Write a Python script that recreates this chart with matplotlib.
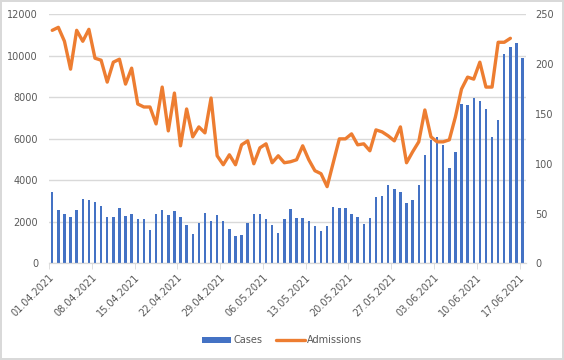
import numpy as np
import pandas as pd
import matplotlib
matplotlib.use('Agg')
import matplotlib.pyplot as plt

# daily values, 01.04.2021 - 17.06.2021
dates = pd.date_range('2021-04-01', periods=78, freq='D')

cases = [3440, 2570, 2380, 2230, 2570, 3100, 3050, 2960, 2760, 2230, 2230, 2670, 2280,
         2380, 2140, 2140, 1610, 2380, 2570, 2330, 2520, 2230, 1850, 1410, 1940, 2430,
         2040, 2330, 2040, 1660, 1320, 1370, 1940, 2380, 2380, 2140, 1850, 1460, 2140,
         2620, 2190, 2190, 2040, 1800, 1560, 1800, 2720, 2670, 2670, 2380, 2230, 1900, 2190,
         3200, 3250, 3780, 3580, 3440, 2910, 3050, 3780, 5220, 5940, 6090, 5700, 4590,
         5370, 7680, 7630, 7970, 7820, 7440, 6090, 6910, 10090, 10430, 10620, 9900]

admissions = [234, 237, 223, 195, 234, 223, 235, 206, 204, 182, 202, 205, 180,
              196, 160, 157, 157, 140, 177, 133, 171, 118, 155, 127, 137, 131,
              166, 108, 99, 109, 99, 119, 123, 100, 116, 120, 101, 108, 101,
              102, 104, 118, 104, 93, 90, 77, 101, 125, 125, 130, 119, 120, 113,
              134, 132, 128, 123, 137, 101, 112, 122, 154, 127, 122, 122, 124,
              147, 175, 187, 185, 202, 177, 177, 222, 222, 226]

tick_every = 7

bar_color = '#4472C4'
line_color = '#ED7D31'
grid_color = '#D9D9D9'
text_color = '#595959'


def main():
    x = np.arange(len(dates))
    adm = np.full(len(dates), np.nan)
    adm[:len(admissions)] = admissions

    fig = plt.figure(figsize=(5.64, 3.6), dpi=100)
    fig.patch.set_edgecolor(grid_color)
    fig.patch.set_linewidth(1.5)
    ax = fig.add_axes([0.0872, 0.2686, 0.932 - 0.0872, 0.960 - 0.2686])
    ax2 = ax.twinx()

    ax.bar(x, cases, width=0.4, color=bar_color, label='Cases', zorder=2)
    ax2.plot(x, adm, color=line_color, linewidth=2.4, label='Admissions',
             solid_capstyle='round', solid_joinstyle='round')

    ax.set_xlim(-0.5, len(dates) - 0.5)
    ax.set_ylim(0, 12000)
    ax.set_yticks(np.arange(0, 12001, 2000))
    ax2.set_ylim(0, 250)
    ax2.set_yticks(np.arange(0, 251, 50))

    ax.grid(axis='y', color=grid_color, linewidth=1, zorder=0)
    ax.set_axisbelow(True)
    for a in (ax, ax2):
        for s in ('top', 'left', 'right'):
            a.spines[s].set_visible(False)
        a.spines['bottom'].set_color(grid_color)
        a.tick_params(axis='y', length=0, labelsize=7, colors=text_color)
    ax.tick_params(axis='y', pad=8)
    ax2.tick_params(axis='y', pad=7)

    pos = x[::tick_every]
    labels = [d.strftime('%d.%m.%Y') for d in dates[::tick_every]]
    ax.set_xticks(pos)
    ax.set_xticklabels(labels, rotation=45, ha='right', va='center',
                       rotation_mode='anchor', fontsize=7, color=text_color)
    ax.tick_params(axis='x', which='major', length=0, pad=9)
    ax.set_xticks(pos - 0.5, minor=True)
    ax.tick_params(axis='x', which='minor', length=4, color=grid_color)

    h1, l1 = ax.get_legend_handles_labels()
    h2, l2 = ax2.get_legend_handles_labels()
    fig.legend(h1 + h2, l1 + l2, loc='center', bbox_to_anchor=(0.5, 0.055),
               ncol=2, frameon=False, fontsize=7, labelcolor=text_color,
               handlelength=3.0, handleheight=0.6, columnspacing=1.4,
               handletextpad=0.2)

    fig.savefig('out.png', dpi=100)
    plt.close(fig)


if __name__ == '__main__':
    main()
